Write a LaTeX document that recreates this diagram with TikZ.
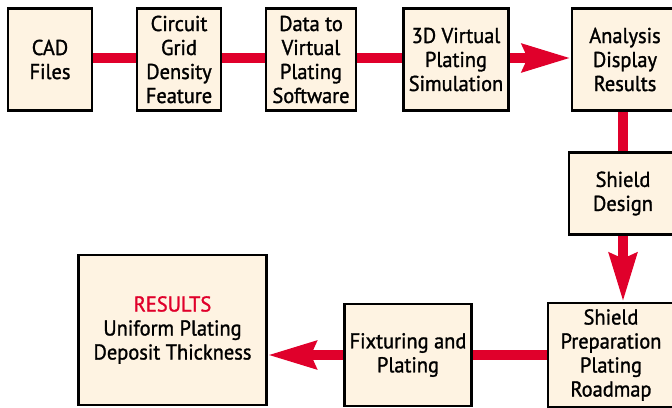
\documentclass[tikz,border=0pt]{standalone}
\usepackage{fontspec}
\setmainfont[FakeStretch=0.95,FakeBold=1.3]{PT Sans}
\usetikzlibrary{arrows.meta,backgrounds}
\definecolor{cream}{HTML}{FEF3E2}
\definecolor{pred}{HTML}{E0002B}
\begin{document}
\begin{tikzpicture}[x=1pt,y=-1pt,
  box/.style={draw=black,line width=2.5pt,fill=cream,inner sep=0pt,align=center,
    font=\fontsize{21.5}{24}\selectfont},
  conn/.style={draw=pred,line width=10pt},
  arr/.style={conn,-{Stealth[length=48pt,width=27pt,inset=5pt]}}]
\useasboundingbox (0,0) rectangle (672,407);
\clip (0,0) rectangle (672,407);
\node[box,minimum width=84pt,minimum height=102pt] (cad) at (50,59.5) {CAD\\Files};
\node[box,minimum width=84pt,minimum height=102pt] (circ) at (179,59.5) {Circuit\\Grid\\Density\\Feature};
\node[box,minimum width=90pt,minimum height=102pt] (data) at (311,59.5) {Data to\\Virtual\\Plating\\Software};
\node[box,minimum width=105pt,minimum height=102pt] (sim) at (456,59.5) {3D Virtual\\Plating\\Simulation};
\node[box,minimum width=106pt,minimum height=102pt] (ana) at (625,59.5) {Analysis\\Display\\Results};
\node[box,minimum width=108pt,minimum height=82pt] (sd) at (623,193.5) {Shield\\Design};
\node[box,minimum width=126pt,minimum height=104pt] (prep) at (611,355) {Shield\\Preparation\\Plating\\Roadmap};
\node[box,minimum width=127pt,minimum height=102pt] (fix) at (408,355) {Fixturing and\\Plating};
\node[box,minimum width=188pt,minimum height=150pt] (res) at (172.5,330) {\textcolor{pred}{RESULTS}\\Uniform Plating\\Deposit Thickness};
\begin{scope}[on background layer]
\draw[conn] (cad.east |- 0,58) -- (circ.west |- 0,58);
\draw[conn] (circ.east |- 0,58) -- (data.west |- 0,58);
\draw[conn] (data.east |- 0,58) -- (sim.west |- 0,58);
\draw[conn] (ana.south -| sd.north) -- (sd.north);
\draw[conn] (prep.west) -- (fix.east);
\end{scope}
\draw[arr] (sim.east |- 0,58) -- (ana.west |- 0,58);
\draw[arr] (sd.south) -- (sd.south |- prep.north);
\draw[arr] (fix.west) -- (fix.west -| res.east);
\end{tikzpicture}
\end{document}
